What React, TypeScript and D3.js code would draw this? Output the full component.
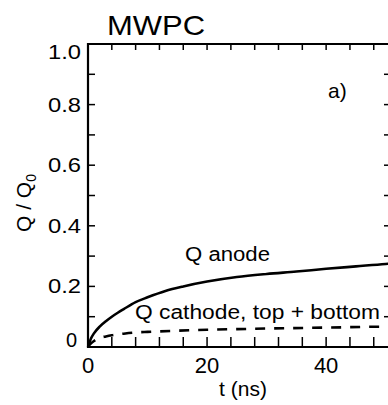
import React from "react";
import * as d3 from "d3";

const anodeT = [0, 0.5, 1, 2, 3, 4, 5, 6, 8, 10, 13, 16, 20, 25, 30, 35, 40, 45, 50, 51.5];
const anodeQ = [0, 0.028, 0.045, 0.068, 0.085, 0.1, 0.113, 0.125, 0.148, 0.164, 0.185, 0.2, 0.216, 0.231, 0.241, 0.249, 0.258, 0.266, 0.274, 0.276];
const cathodeT = [0, 0.5, 1, 2, 3, 4, 6, 8, 10, 14, 20, 25, 30, 40, 50, 51.5];
const cathodeQ = [0, 0.012, 0.02, 0.03, 0.035, 0.039, 0.044, 0.048, 0.05, 0.053, 0.057, 0.059, 0.061, 0.064, 0.067, 0.067];
const xTickLabels = [0, 20, 40];
const xMinorTicks = d3.range(4, 52, 4);
const yTickLabels = [0, 0.2, 0.4, 0.6, 0.8, 1.0];
const yMinorTicks = d3.range(1, 10).map((i) => i / 10);

const FONT = "'Liberation Sans', Arial, Helvetica, sans-serif";

export default function App() {
  const W = 388, H = 405;
  const x = d3.scaleLinear().domain([0, 51.4]).range([88, 394]);
  const y = d3.scaleLinear().domain([0, 1]).range([347, 44]);
  const line = d3
    .line<[number, number]>()
    .x((d) => x(d[0]))
    .y((d) => y(d[1]))
    .curve(d3.curveMonotoneX);
  const anode = line(anodeT.map((t, i) => [t, anodeQ[i]]) as [number, number][]) || "";
  const cathode = line(cathodeT.map((t, i) => [t, cathodeQ[i]]) as [number, number][]) || "";
  const x0 = x(0), x1 = x.range()[1];
  const yTop = y(1), yBot = y(0);

  return (
    <svg width={W} height={H} style={{ position: "absolute", left: 0, top: 0, background: "#fff" }}>
      <rect x={0} y={0} width={W} height={H} fill="#fff" />
      {/* axes frame */}
      <line x1={x0} x2={x1} y1={yTop} y2={yTop} stroke="#000" strokeWidth={2} />
      <line x1={x0} x2={x1} y1={yBot} y2={yBot} stroke="#000" strokeWidth={2} />
      <line x1={x0} x2={x0} y1={yTop - 1} y2={yBot + 1} stroke="#000" strokeWidth={2.2} />
      <line x1={x1} x2={x1} y1={yTop} y2={yBot} stroke="#000" strokeWidth={2} />
      {/* x ticks */}
      {xMinorTicks.map((t) => (
        <g key={"xt" + t}>
          <line x1={x(t)} x2={x(t)} y1={yBot} y2={yBot - 10} stroke="#000" strokeWidth={1.5} />
          <line x1={x(t)} x2={x(t)} y1={yTop} y2={yTop + 6} stroke="#000" strokeWidth={1.5} />
        </g>
      ))}
      {/* y ticks */}
      {yMinorTicks.map((v) => (
        <g key={"yt" + v}>
          <line x1={x0} x2={x0 + 7} y1={y(v)} y2={y(v)} stroke="#000" strokeWidth={1.5} />
          <line x1={x1} x2={x1 - 10} y1={y(v)} y2={y(v)} stroke="#000" strokeWidth={1.5} />
        </g>
      ))}
      {/* x tick labels */}
      {xTickLabels.map((t) => (
        <text key={"xl" + t} x={x(t)} y={373} fontFamily={FONT} fontSize={22} textAnchor="middle" fill="#000">
          {t}
        </text>
      ))}
      {/* y tick labels */}
      {yTickLabels.map((v) => {
        const label = v === 0 ? "0" : v.toFixed(1);
        const shift = v === 1 ? 8 : v === 0 ? -7 : 0;
        return (
          <text
            key={"yl" + v}
            x={v === 0 ? 77 : 81}
            y={y(v) + shift + 7}
            fontFamily={FONT}
            fontSize={20}
            textAnchor="end"
            fill="#000"
            textLength={v === 0 ? undefined : 33}
            lengthAdjust="spacingAndGlyphs"
          >
            {label}
          </text>
        );
      })}
      {/* curves */}
      <path d={anode} fill="none" stroke="#000" strokeWidth={2.6} />
      <path d={cathode} fill="none" stroke="#000" strokeWidth={2.6} strokeDasharray="10,9" />
      {/* annotations */}
      <text x={107} y={35} fontFamily={FONT} fontSize={28} fill="#000" textLength={98} lengthAdjust="spacingAndGlyphs">
        MWPC
      </text>
      <text x={328} y={98} fontFamily={FONT} fontSize={21} fill="#000">
        a)
      </text>
      <text x={185} y={261} fontFamily={FONT} fontSize={20} fill="#000" textLength={85} lengthAdjust="spacingAndGlyphs">
        Q anode
      </text>
      <text x={135} y={319} fontFamily={FONT} fontSize={20} fill="#000" textLength={245} lengthAdjust="spacingAndGlyphs">
        Q cathode, top + bottom
      </text>
      <text x={243} y={396} fontFamily={FONT} fontSize={21} textAnchor="middle" fill="#000">
        t (ns)
      </text>
      <text
        transform="translate(31,203) rotate(-90)"
        fontFamily={FONT}
        fontSize={21}
        textAnchor="middle"
        fill="#000"
      >
        Q / Q<tspan fontSize={14} dy={5}>0</tspan>
      </text>
    </svg>
  );
}
